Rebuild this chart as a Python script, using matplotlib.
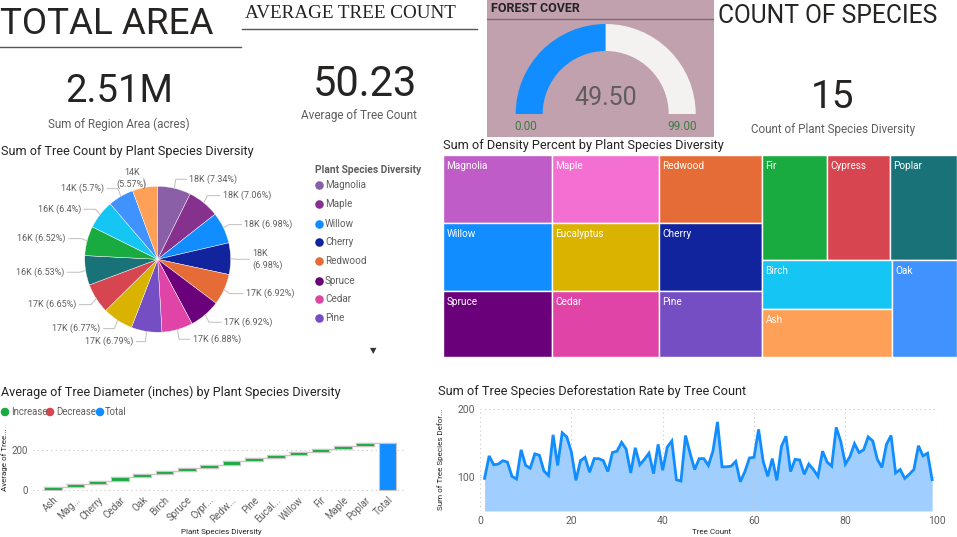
import numpy as np
import matplotlib
matplotlib.use('Agg')
import matplotlib.pyplot as plt
from matplotlib.patches import Rectangle

plt.rcParams['font.family'] = ['Roboto', 'DejaVu Sans']

W, H = 957, 537
GREY = '#605e5c'
DARK = '#252423'
BLUE = '#118dff'
GREEN = '#1aab40'
RED = '#d64550'

# pie
species = ['Magnolia', 'Maple', 'Willow', 'Cherry', 'Redwood', 'Spruce', 'Cedar', 'Pine',
           'Eucalyptus', 'Cypress', 'Poplar', 'Fir', 'Birch', 'Oak', 'Ash']
tree_pct = [7.34, 7.06, 6.98, 6.98, 6.92, 6.92, 6.88, 6.79, 6.77, 6.65, 6.53, 6.52, 6.4, 5.7, 5.57]
tree_labels = ['18K (7.34%)', '18K (7.06%)', '18K (6.98%)', '18K\n(6.98%)', '17K (6.92%)', '17K (6.92%)',
               '17K (6.88%)', '17K (6.79%)', '17K (6.77%)', '17K (6.65%)', '16K (6.53%)', '16K (6.52%)',
               '16K (6.4%)', '14K (5.7%)', '14K\n(5.57%)']
colors = ['#8a5fa8', '#87318f', '#118dff', '#12239e', '#e66c37', '#6b007b', '#e044a7', '#744ec2',
          '#d9b300', '#d64550', '#197278', '#1aab40', '#15c6f4', '#4092ff', '#ffa058']
# the treemap shows these two in another colour than the pie
tree_colors = dict(zip(species, colors))
tree_colors['Magnolia'] = '#c05cc8'
tree_colors['Maple'] = '#f46fd2'

# treemap
density = {'Magnolia': 7.14, 'Maple': 7.0, 'Redwood': 6.75, 'Willow': 7.14, 'Eucalyptus': 7.0, 'Cherry': 6.75,
           'Spruce': 6.93, 'Cedar': 6.8, 'Pine': 6.55, 'Fir': 6.57, 'Cypress': 6.37, 'Poplar': 6.78,
           'Birch': 6.14, 'Ash': 6.0, 'Oak': 6.07}

# waterfall
wf_names = ['Ash', 'Mag...', 'Cherry', 'Cedar', 'Oak', 'Birch', 'Spruce', 'Cypr...', 'Redw...', 'Pine',
            'Eucal...', 'Willow', 'Fir', 'Maple', 'Poplar']
wf_steps = [16, 16, 16, 17, 15, 17, 16, 15, 17, 15, 15, 17, 15, 15, 16]

# area
defor = [98, 131, 118, 119, 124, 122, 101, 97, 140, 117, 113, 134, 132, 109, 102, 162, 117, 165, 159, 137,
         95, 124, 129, 107, 127, 127, 124, 108, 136, 138, 151, 141, 106, 143, 118, 126, 135, 105, 148, 110,
         144, 153, 96, 94, 161, 135, 111, 127, 127, 117, 138, 181, 115, 115, 116, 123, 93, 108, 128, 129,
         170, 123, 101, 127, 95, 145, 160, 108, 126, 125, 104, 119, 111, 101, 138, 122, 116, 173, 152, 119,
         130, 149, 136, 140, 159, 153, 126, 114, 148, 161, 106, 111, 98, 104, 111, 146, 131, 135, 96]

gauge_val = 49.5
gauge_max = 99.0


def axpx(x0, y0, x1, y1):
    # axes from pixel box, y measured from the top
    return fig.add_axes([x0 / W, 1 - y1 / H, (x1 - x0) / W, (y1 - y0) / H])


fig = plt.figure(figsize=(W / 100, H / 100), dpi=100, facecolor='white')

# overlay in pixel coords for the headings
ov = axpx(0, 0, W, H)
ov.set_xlim(0, W)
ov.set_ylim(H, 0)
ov.axis('off')
ov.set_zorder(5)

ov.text(0, 24, 'TOTAL AREA', fontsize=26.5, color=DARK, va='center')
ov.plot([0, 241], [47, 47], color='#555555', lw=1)
ov.text(245, 14, 'AVERAGE TREE COUNT', fontsize=13.8, color=DARK, va='center', family='Liberation Serif')
ov.plot([242, 477], [29, 29], color='#555555', lw=1)
ov.text(718, 16, 'COUNT OF SPECIES', fontsize=17.7, color=DARK, va='center')

ov.text(119, 92, '2.51M', fontsize=27.5, color=DARK, ha='center', va='center')
ov.text(119, 124, 'Sum of Region Area (acres)', fontsize=8.4, color=GREY, ha='center', va='center')
ov.text(365, 84, '50.23', fontsize=30, color=DARK, ha='center', va='center')
ov.text(359, 116, 'Average of Tree Count', fontsize=8.5, color=GREY, ha='center', va='center')
ov.text(833, 97, '15', fontsize=28, color=DARK, ha='center', va='center')
ov.text(833, 129, 'Count of Plant Species Diversity', fontsize=8.4, color=GREY, ha='center', va='center')

ov.text(1, 152, 'Sum of Tree Count by Plant Species Diversity', fontsize=9.1, color=DARK, va='center')
ov.text(443, 145, 'Sum of Density Percent by Plant Species Diversity', fontsize=9.2, color=DARK, va='center')
ov.text(1, 392, 'Average of Tree Diameter (inches) by Plant Species Diversity', fontsize=9.05, color=DARK, va='center')
ov.text(438, 392, 'Sum of Tree Species Deforestation Rate by Tree Count', fontsize=9.2, color=DARK, va='center')

# gauge
ax = axpx(487, 0, 714, 137)
ax.set_facecolor('#c2a1ae')
ax.pie([gauge_val, gauge_max - gauge_val, gauge_max], colors=[BLUE, '#f3f2f1', 'none'], startangle=180,
       counterclock=False, radius=90, center=(0, 0), frame=True, wedgeprops=dict(width=27))
ax.set_xlim(-118.7, 108.3)
ax.set_ylim(-23, 114)
ax.set_xticks([])
ax.set_yticks([])
for s in ax.spines.values():
    s.set_visible(False)
ax.plot([-118.7, 108.3], [95, 95], color='#7d6a72', lw=1)
ax.text(-115, 105.5, 'FOREST COVER', fontsize=9, fontweight='bold', color=DARK, va='center')
ax.text(0, 16, '%.2f' % gauge_val, fontsize=18, color=GREY, ha='center', va='center')
ax.text(-80, -12, '%.2f' % 0, fontsize=8.5, color='#3a7d44', ha='center', va='center')
ax.text(76, -12, '%.2f' % gauge_max, fontsize=8.5, color='#3a7d44', ha='center', va='center')

# pie
label_pos = [(31.7, 80), (65, 63.7), (86.7, 34.7), (94.7, 0), (88, -34.3), (66.3, -63), (35, -80),
             (-24.3, -82.3), (-57, -69.3), (-81.3, -45.3), (-93.3, -13), (-91.7, 20.7), (-76.7, 50),
             (-53.3, 70.7), (-26, 81)]
ax = axpx(1, 145, 314, 375)
wedges, _ = ax.pie(tree_pct, colors=colors, startangle=90, counterclock=False, radius=73, center=(0, 0),
                   frame=True, wedgeprops=dict(edgecolor='white', linewidth=0.3))
ax.set_xlim(-156.7, 156.3)
ax.set_ylim(-115.7, 114.3)
ax.axis('off')
for w, txt, (lx, ly) in zip(wedges, tree_labels, label_pos):
    ang = np.deg2rad((w.theta1 + w.theta2) / 2)
    ex, ey = 73 * np.cos(ang), 73 * np.sin(ang)
    mx = 79 * np.cos(ang)
    if '5.57' in txt:
        ha = 'center'
        end = lx + 12
    elif lx > 0:
        ha = 'left'
        end = lx - 3
    else:
        ha = 'right'
        end = lx + 3
    ax.plot([ex, mx, end], [ey, ly, ly], color='#c8c6c4', lw=0.8, clip_on=False)
    ax.text(lx, ly, txt, fontsize=6.5, color=GREY, ha=ha, va='center', linespacing=1.25,
            multialignment='left' if ha == 'left' else 'center')

# pie legend
ov.text(315, 170, 'Plant Species Diversity', fontsize=7.4, fontweight='bold', color=GREY, va='center')
legend_y = [184.7, 203.7, 223.7, 241.7, 260.7, 280.7, 298.7, 317.7]
for name, c, y in zip(species, colors, legend_y):
    ov.scatter([319], [y], s=38, color=c, linewidths=0)
    ov.text(325, y, name, fontsize=7.1, color=GREY, va='center')
ov.text(373, 351, '\u25bc', fontsize=6, color='#333333', ha='center', va='center', family='DejaVu Sans')

# treemap, slices the box by the values
tree_layout = ('h', [('v', [('h', ['Magnolia', 'Maple', 'Redwood']),
                            ('h', ['Willow', 'Eucalyptus', 'Cherry']),
                            ('h', ['Spruce', 'Cedar', 'Pine'])]),
                     ('v', [('h', ['Fir', 'Cypress', 'Poplar']),
                            ('h', [('v', ['Birch', 'Ash']), 'Oak'])])])


def total(node):
    if isinstance(node, str):
        return density[node]
    return sum(total(n) for n in node[1])


def draw_tree(ax, node, x, y, w, h):
    if isinstance(node, str):
        ax.add_patch(Rectangle((x, y), w, h, facecolor=tree_colors[node], edgecolor='white', lw=1))
        ax.text(x + 3.5, y + 11, node, fontsize=7.2, color='white', va='center')
        return
    t = total(node)
    for n in node[1]:
        f = total(n) / t
        if node[0] == 'h':
            draw_tree(ax, n, x, y, w * f, h)
            x += w * f
        else:
            draw_tree(ax, n, x, y, w, h * f)
            y += h * f


ax = axpx(443, 155, 957, 357)
ax.set_xlim(0, 514)
ax.set_ylim(202, 0)
ax.axis('off')
draw_tree(ax, tree_layout, 0, 0, 514, 202)

# waterfall
ov.scatter([5, 50, 100], [412, 412, 412], s=38, color=[GREEN, RED, BLUE], linewidths=0)
ov.text(11, 412, 'Increase', fontsize=6.9, color=GREY, va='center')
ov.text(56, 412, 'Decrease', fontsize=6.9, color=GREY, va='center')
ov.text(105, 412, 'Total', fontsize=6.9, color=GREY, va='center')

ax = axpx(33, 430, 406, 492)
ax.set_xlim(-0.9, 15.83)
ax.set_ylim(-8.5, 301.5)
cum = np.cumsum(wf_steps)
xs = np.arange(len(wf_steps))
starts = cum - np.array(wf_steps)
ax.bar(xs, wf_steps, bottom=starts, width=0.79, color=GREEN, edgecolor='#c8c6c4', lw=0.8, zorder=3)
ax.bar([15], [cum[-1]], width=0.79, color=BLUE, edgecolor='#c8c6c4', lw=0.8, zorder=3)
for i in range(len(wf_steps)):
    ax.plot([i - 0.4, i + 1.4], [cum[i], cum[i]], color='#c8c6c4', lw=1, zorder=2)
ax.set_yticks([0, 200])
ax.set_xticks(list(xs) + [15])
ax.set_xticklabels(wf_names + ['Total'], rotation=45, ha='right', rotation_mode='anchor')
ax.tick_params(length=0, labelcolor=GREY, labelsize=7)
ax.tick_params(axis='x', pad=2)
ax.grid(axis='y', color='#c8c6c4', ls=(0, (1, 3)), lw=0.8)
ax.set_axisbelow(True)
for s in ax.spines.values():
    s.set_visible(False)
ov.text(5, 460, 'Average of Tree...', fontsize=5.8, color=DARK, rotation=90, ha='center', va='center')
ov.text(221, 532, 'Plant Species Diversity', fontsize=5.8, color=DARK, ha='center', va='center')

# area
ax = axpx(480, 409, 936.7, 511)
xvals = np.arange(1, len(defor) + 1)
ax.fill_between(xvals, defor, 50, color='#a0cfff', lw=0, zorder=2)
ax.plot(xvals, defor, color=BLUE, lw=2, solid_joinstyle='miter', zorder=3)
ax.set_xlim(0, 100)
ax.set_ylim(50, 200)
ax.set_xticks([0, 20, 40, 60, 80, 100])
ax.set_yticks([100, 200])
ax.tick_params(length=0, labelcolor=GREY, labelsize=7.5)
ax.grid(color='#c8c6c4', ls=(0, (1, 3)), lw=0.8, zorder=4)
ax.set_axisbelow(False)
for s in ax.spines.values():
    s.set_visible(False)
ov.text(441, 459, 'Sum of Tree Species Defor...', fontsize=5.8, color=DARK, rotation=90, ha='center', va='center')
ov.text(711, 532, 'Tree Count', fontsize=5.8, color=DARK, ha='center', va='center')

fig.savefig('out.png', dpi=100)
